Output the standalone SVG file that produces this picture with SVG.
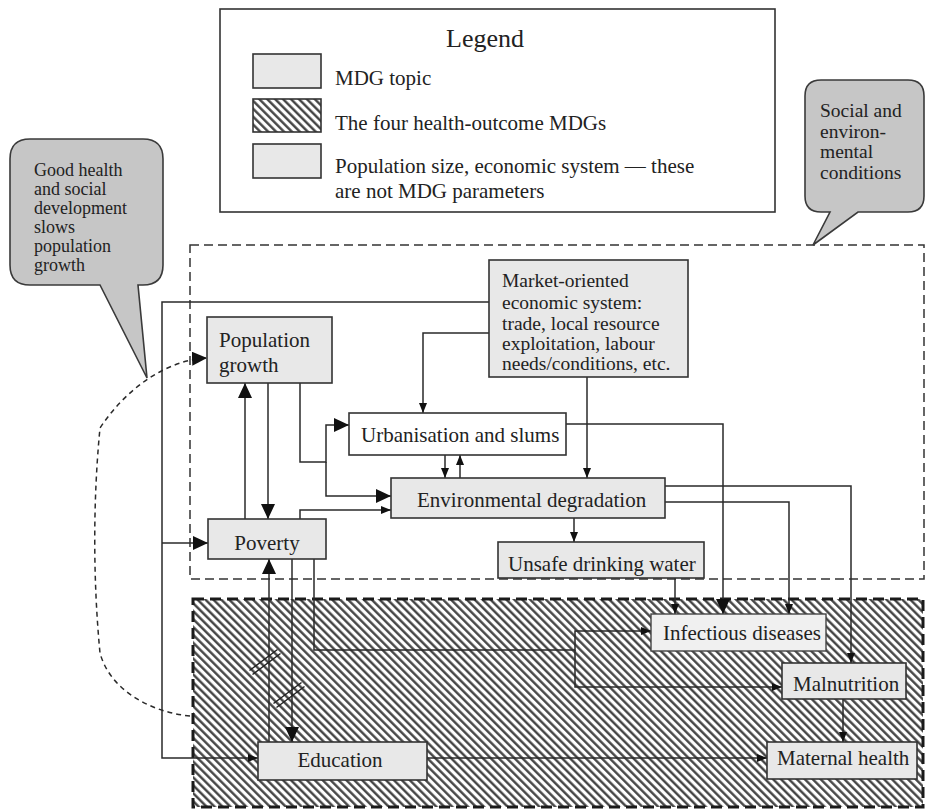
<svg xmlns="http://www.w3.org/2000/svg" width="926" height="812" viewBox="0 0 926 812">
  <style>
    text { font-family: "Liberation Serif", "Times New Roman", serif; fill: #222; }
    .t21 { font-size: 21px; }
    .t20 { font-size: 19.5px; }
    .cl { font-size: 18px; }
    .cr { font-size: 19.5px; }
    .box { fill: #e8e8e8; stroke: #333; stroke-width: 1.6; }
    .wbox { fill: #ffffff; stroke: #333; stroke-width: 1.6; }
    .lbox { fill: #f0f0f0; stroke: #444; stroke-width: 1.4; }
    .callout { fill: #c6c6c6; stroke: #3a3a3a; stroke-width: 1.6; }
    .conn { fill: none; stroke: #2a2a2a; stroke-width: 1.5; }
    .big { marker-end: url(#arrowBig); }
    .small { marker-end: url(#arrowSmall); }
    .slash { stroke: #222; stroke-width: 1.4; }
  </style>
  <defs>
    <marker id="arrowBig" markerUnits="userSpaceOnUse" markerWidth="15" markerHeight="14" refX="15" refY="7" orient="auto">
      <path d="M0,0 L15,7 L0,14 z" fill="#111"/>
    </marker>
    <marker id="arrowSmall" markerUnits="userSpaceOnUse" markerWidth="10" markerHeight="8" refX="10" refY="4" orient="auto">
      <path d="M0,0 L10,4 L0,8 z" fill="#111"/>
    </marker>
    <pattern id="hatch" patternUnits="userSpaceOnUse" width="5.6" height="10" patternTransform="rotate(-45)">
      <rect width="5.6" height="10" fill="#ffffff"/>
      <line x1="1.3" y1="0" x2="1.3" y2="10" stroke="#3c3c3c" stroke-width="2.3"/>
    </pattern>
  </defs>

  <!-- legend -->
  <g id="legend">
    <rect x="220" y="9" width="555" height="203" fill="#ffffff" stroke="#333" stroke-width="1.6"/>
    <text x="485" y="47" text-anchor="middle" style="font-size:26px">Legend</text>
    <rect class="box" x="253" y="54" width="68" height="34"/>
    <text class="t21" x="335" y="85">MDG topic</text>
    <rect x="253" y="99" width="68" height="33" fill="url(#hatch)" stroke="#333" stroke-width="1.6"/>
    <text class="t21" x="335" y="130">The four health-outcome MDGs</text>
    <rect class="box" x="253" y="144" width="68" height="34"/>
    <text class="t21" x="335" y="173">Population size, economic system — these</text>
    <text class="t21" x="335" y="198">are not MDG parameters</text>
  </g>

  <!-- regions -->
  <g id="region-social">
    <rect x="190" y="245" width="734" height="334" fill="none" stroke="#333" stroke-width="1.5" stroke-dasharray="9 5"/>
  </g>
  <g id="region-health">
    <rect x="193" y="599" width="730" height="208" fill="url(#hatch)" stroke="#1a1a1a" stroke-width="3" stroke-dasharray="11 6"/>
  </g>

  <!-- callouts -->
  <g id="callout-population">
    <path class="callout" d="M 30 139 H 143 Q 163 139 163 159 V 265 Q 163 285 143 285 H 138 L 147 378 L 100 285 H 30 Q 10 285 10 265 V 159 Q 10 139 30 139 Z"/>
    <text class="cl" x="34" y="176">Good health</text>
    <text class="cl" x="34" y="195">and social</text>
    <text class="cl" x="34" y="214">development</text>
    <text class="cl" x="34" y="233">slows</text>
    <text class="cl" x="34" y="252">population</text>
    <text class="cl" x="34" y="271">growth</text>
  </g>
  <g id="callout-conditions">
    <path class="callout" d="M 821 80 H 908 Q 924 80 924 96 V 196 Q 924 212 908 212 H 858 L 813 245 L 830 212 H 821 Q 805 212 805 196 V 96 Q 805 80 821 80 Z"/>
    <text class="cr" x="820" y="117">Social and</text>
    <text class="cr" x="820" y="137.5">environ-</text>
    <text class="cr" x="820" y="158">mental</text>
    <text class="cr" x="820" y="178.5">conditions</text>
  </g>

  <!-- connectors -->
  <g id="connectors">
    <path class="conn small" d="M 489 302 H 162 V 758 H 258"/>
    <path class="conn big" d="M 162 543 H 208"/>
    <path class="conn small" d="M 489 333 H 423 V 413"/>
    <path class="conn small" d="M 587 377 V 478"/>
    <path class="conn small" d="M 445 455 V 478"/>
    <path class="conn small" d="M 460 478 V 455"/>
    <path class="conn big" d="M 566 424 H 723 V 614"/>
    <path class="conn small" d="M 665 486 H 851 V 663"/>
    <path class="conn small" d="M 665 502 H 789 V 614"/>
    <path class="conn small" d="M 574 518 V 542"/>
    <path class="conn small" d="M 675 578 V 614"/>
    <path class="conn big" d="M 300 383 V 462 H 326 V 425 H 349"/>
    <path class="conn big" d="M 326 462 V 496 H 391"/>
    <path class="conn big" d="M 245 519 V 383"/>
    <path class="conn big" d="M 268 383 V 519"/>
    <path class="conn small" d="M 300 519 V 510 H 391"/>
    <path class="conn big" d="M 269 742 V 559"/>
    <path class="conn big" d="M 292 559 V 742"/>
    <path class="conn small" d="M 314 559 V 650 H 575 V 631 H 651"/>
    <path class="conn small" d="M 575 650 V 687 H 782"/>
    <path class="conn small" d="M 427 758 H 767"/>
    <path class="conn small" d="M 843 699 V 742"/>
    <path class="conn big" stroke-dasharray="5 4" d="M 190 716 C 150 712 110 690 100 653 C 93 580 93 500 100 428 C 125 390 165 360 207 358"/>
    <!-- double-slash breaks on the poverty/education links -->
    <line class="slash" x1="249.5" y1="670.5" x2="277.5" y2="649.5"/>
    <line class="slash" x1="252.5" y1="674.5" x2="280.5" y2="653.5"/>
    <line class="slash" x1="273.5" y1="703.5" x2="301.5" y2="682.5"/>
    <line class="slash" x1="276.5" y1="707.5" x2="304.5" y2="686.5"/>
  </g>

  <!-- nodes -->
  <g id="market">
    <rect class="box" x="489" y="260" width="199" height="117"/>
    <text class="t20" x="502" y="287">Market-oriented</text>
    <text class="t20" x="502" y="309">economic system:</text>
    <text class="t20" x="502" y="330">trade, local resource</text>
    <text class="t20" x="502" y="350">exploitation, labour</text>
    <text class="t20" x="502" y="370">needs/conditions, etc.</text>
  </g>
  <g id="population-growth">
    <rect class="box" x="207" y="317" width="125" height="66"/>
    <text class="t21" x="219" y="347">Population</text>
    <text class="t21" x="219" y="372">growth</text>
  </g>
  <g id="urbanisation">
    <rect class="wbox" x="349" y="413" width="217" height="42"/>
    <text class="t21" x="361" y="442">Urbanisation and slums</text>
  </g>
  <g id="environment">
    <rect class="box" x="391" y="478" width="274" height="40"/>
    <text class="t21" x="417" y="507">Environmental degradation</text>
  </g>
  <g id="water">
    <rect class="box" x="498" y="542" width="206" height="36"/>
    <text class="t21" x="508" y="571">Unsafe drinking water</text>
  </g>
  <g id="poverty">
    <rect class="box" x="208" y="519" width="118" height="40"/>
    <text class="t21" x="267" y="550" text-anchor="middle">Poverty</text>
  </g>
  <g id="education">
    <rect class="box" x="258" y="742" width="169" height="38"/>
    <text class="t21" x="340" y="767" text-anchor="middle">Education</text>
  </g>
  <g id="infectious">
    <rect class="lbox" x="651" y="614" width="175" height="37"/>
    <text class="t21" x="663" y="640">Infectious diseases</text>
  </g>
  <g id="malnutrition">
    <rect class="box" x="782" y="663" width="124" height="36"/>
    <text class="t21" x="793" y="691">Malnutrition</text>
  </g>
  <g id="maternal">
    <rect class="box" x="767" y="742" width="150" height="37"/>
    <text class="t21" x="777" y="765">Maternal health</text>
  </g>
</svg>
